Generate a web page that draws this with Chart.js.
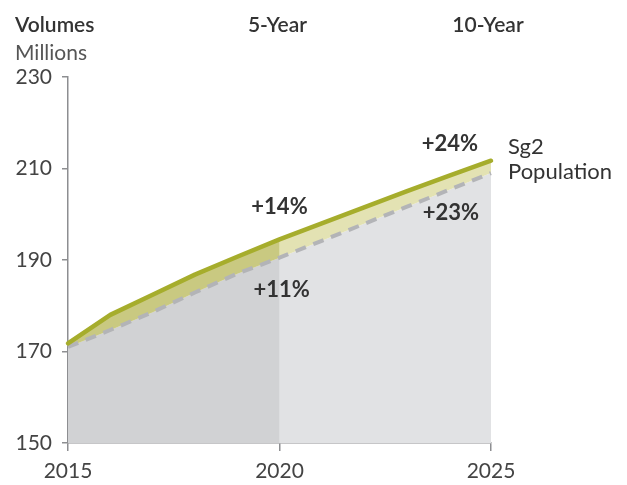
<!DOCTYPE html>
<html>
<head>
<meta charset="utf-8">
<script src="https://cdn.jsdelivr.net/npm/chart.js@4"></script>
<style>
  html, body { margin:0; padding:0; background:#fff; }
  #wrap { width:627px; height:485px; }
</style>
</head>
<body>
<div id="wrap"><canvas id="chart" width="627" height="485"></canvas></div>
<script>
// Data
const years = [2015, 2016, 2017, 2018, 2019, 2020, 2021, 2022, 2023, 2024, 2025];
const sg2Values = [171.8, 178.0, 182.4, 186.8, 190.7, 194.5, 198.0, 201.5, 205.0, 208.4, 211.7];
const populationValues = [171.0, 174.7, 178.6, 182.9, 187.0, 190.5, 194.2, 197.9, 201.6, 205.3, 209.0];
const yTicks = [150, 170, 190, 210, 230];
const xTicks = [2015, 2020, 2025];
const splitYear = 2020;
const seriesNames = ["Sg2", "Population"];
const growthLabels = ["+14%", "+11%", "+24%", "+23%"];
const periodLabels = ["5-Year", "10-Year"];

function pts(vals, from, to){
    return years.map((y,i)=>({x:y, y:vals[i]})).filter(p=>p.x>=from && p.x<=to);
}

const FONT = "Lato, 'Open Sans', sans-serif";
const axisColor = "#8d8e91";

// text around the plot
const textPlugin = {
    id: "texts",
    afterDraw(chart){
        const {ctx, scales:{x, y}} = chart;
        ctx.save();
        ctx.textBaseline = "middle";
        ctx.fillStyle = "#333";
        ctx.font = "600 21px " + FONT;
        ctx.textAlign = "left";
        ctx.fillText("Volumes", 15, 25);
        ctx.textAlign = "center";
        ctx.fillText(periodLabels[0], x.getPixelForValue(2020) - 2, 25);
        ctx.fillText(periodLabels[1], x.getPixelForValue(2025) - 3, 25);
        ctx.font = "21px " + FONT;
        ctx.fillStyle = "#555";
        ctx.textAlign = "left";
        ctx.fillText("Millions", 15, 53);

        // growth labels
        ctx.fillStyle = "#333";
        ctx.font = "bold 22px " + FONT;
        ctx.textAlign = "center";
        ctx.fillText(growthLabels[0], x.getPixelForValue(2020), y.getPixelForValue(201.6));
        ctx.fillText(growthLabels[1], x.getPixelForValue(2020.05), y.getPixelForValue(183.4));
        ctx.fillText(growthLabels[2], x.getPixelForValue(2024.03), y.getPixelForValue(215.4));
        ctx.fillText(growthLabels[3], x.getPixelForValue(2024.05), y.getPixelForValue(200.3));

        // series names
        ctx.font = "22px " + FONT;
        ctx.textAlign = "left";
        ctx.fillText(seriesNames[0], x.getPixelForValue(2025) + 17, y.getPixelForValue(214.7));
        ctx.fillText(seriesNames[1], x.getPixelForValue(2025) + 17, y.getPixelForValue(209.2));
        ctx.restore();
    }
};

const noLine = {borderColor:"transparent", borderWidth:0, pointRadius:0};

new Chart(document.getElementById("chart"), {
    type: "line",
    data: {
        datasets: [
            {label:"Sg2", data:pts(sg2Values, 2015, 2025), borderColor:"#a6ad2c", borderWidth:4.5,
             borderCapStyle:"round", borderJoinStyle:"round", pointRadius:0, fill:false, order:0, clip:false, tension:0},
            {label:"Population", data:pts(populationValues, 2015, 2025), borderColor:"#b3b4b7", borderWidth:4,
             borderDash:[11,8], pointRadius:0, fill:false, order:1, clip:false, tension:0},
            // first five years, darker shades drawn over the full-range lighter ones
            Object.assign({data:pts(sg2Values, 2015, splitYear), fill:4, backgroundColor:"#c9c981", order:2}, noLine),
            Object.assign({data:pts(sg2Values, 2015, 2025), fill:5, backgroundColor:"#e3e2b3", order:3}, noLine),
            Object.assign({data:pts(populationValues, 2015, splitYear), fill:"start", backgroundColor:"#d1d2d4", order:4}, noLine),
            Object.assign({data:pts(populationValues, 2015, 2025), fill:"start", backgroundColor:"#e1e2e4", order:5}, noLine)
        ]
    },
    options: {
        responsive:false,
        animation:false,
        layout:{padding:{left:0, top:77, right:136, bottom:0}},
        plugins:{legend:{display:false}, tooltip:{enabled:false}},
        scales:{
            x:{
                type:"linear", min:2015, max:2025,
                afterBuildTicks: s => { s.ticks = xTicks.map(v=>({value:v})); },
                afterFit: s => { s.height = 42; },
                border:{color:axisColor, width:1.5},
                grid:{drawOnChartArea:false, tickLength:8, color:axisColor, lineWidth:1.5},
                ticks:{color:"#444", padding:8, font:{family:FONT, size:21}, callback:v=>String(v), maxRotation:0}
            },
            y:{
                min:150, max:230,
                afterBuildTicks: s => { s.ticks = yTicks.map(v=>({value:v})); },
                afterFit: s => { s.width = 68; },
                border:{color:axisColor, width:1.5},
                grid:{drawOnChartArea:false, tickLength:6, color:axisColor, lineWidth:1.5},
                ticks:{color:"#444", padding:10, font:{family:FONT, size:21}}
            }
        }
    },
    plugins:[textPlugin]
});
</script>
</body>
</html>
